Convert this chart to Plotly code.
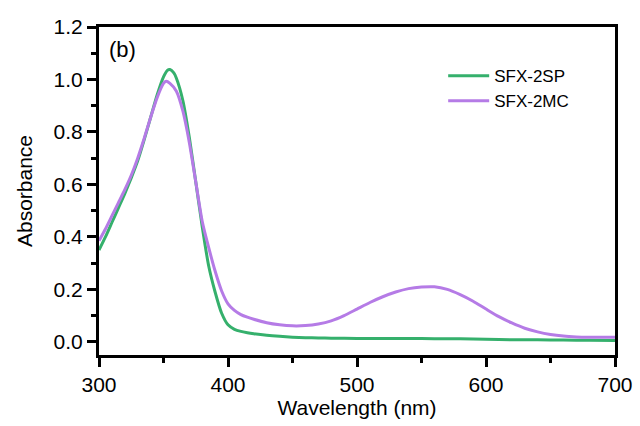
import plotly.graph_objects as go

# Wavelength grids (nm)
wl_sp = [300, 305, 310, 315, 320, 325, 330, 335, 340, 345, 350, 353, 355, 358, 360,
         365, 370, 375, 380, 385, 390, 395, 400, 405, 410, 415, 420, 430, 440, 450,
         460, 470, 480, 500, 520, 540, 560, 580, 600, 620, 640, 660, 680, 700]
abs_sp = [0.350, 0.400, 0.455, 0.510, 0.565, 0.625, 0.690, 0.770, 0.855, 0.940, 1.010, 1.035, 1.038, 1.025, 1.005,
          0.920, 0.780, 0.610, 0.440, 0.290, 0.190, 0.110, 0.065, 0.048, 0.040, 0.035, 0.031, 0.025, 0.021, 0.018,
          0.016, 0.015, 0.014, 0.013, 0.013, 0.013, 0.012, 0.012, 0.010, 0.008, 0.008, 0.007, 0.006, 0.005]

wl_mc = [300, 305, 310, 315, 320, 325, 330, 335, 340, 345, 350, 352, 355, 360, 365,
         370, 375, 380, 385, 390, 395, 400, 405, 410, 415, 420, 430, 440, 450, 460,
         470, 480, 490, 500, 510, 520, 530, 540, 550, 560, 570, 580, 590, 600, 610,
         620, 630, 640, 650, 660, 670, 680, 690, 700]
abs_mc = [0.385, 0.430, 0.480, 0.530, 0.580, 0.635, 0.700, 0.775, 0.855, 0.930, 0.985, 0.993, 0.985, 0.955, 0.880,
          0.760, 0.610, 0.460, 0.360, 0.270, 0.195, 0.145, 0.120, 0.104, 0.094, 0.086, 0.073, 0.065, 0.061, 0.062,
          0.068, 0.080, 0.100, 0.125, 0.150, 0.172, 0.190, 0.203, 0.209, 0.210, 0.200, 0.180, 0.155, 0.125, 0.096,
          0.072, 0.052, 0.038, 0.028, 0.022, 0.019, 0.018, 0.018, 0.018]

x_ticks = [300, 400, 500, 600, 700]
y_ticks = [0.0, 0.2, 0.4, 0.6, 0.8, 1.0, 1.2]
y_ticklabels = ["0.0", "0.2", "0.4", "0.6", "0.8", "1.0", "1.2"]

FONT = "Liberation Sans, Arial, sans-serif"

fig = go.Figure()
fig.add_trace(go.Scatter(x=wl_sp, y=abs_sp, mode="lines", name="SFX-2SP",
                         line=dict(color="#35b06c", width=3, shape="spline", smoothing=0.6)))
fig.add_trace(go.Scatter(x=wl_mc, y=abs_mc, mode="lines", name="SFX-2MC",
                         line=dict(color="#b57be6", width=3, shape="spline", smoothing=0.6)))

axis_common = dict(showgrid=False, zeroline=False, showline=True, linecolor="black",
                   linewidth=3, mirror=True, ticks="outside", ticklen=9, tickwidth=3,
                   tickcolor="black", automargin=False,
                   tickfont=dict(family=FONT, size=21, color="black"))

fig.update_xaxes(range=[300, 700], tickvals=x_ticks,
                 minor=dict(dtick=50, ticks="outside", ticklen=5, tickwidth=3, tickcolor="black"),
                 title=dict(text="Wavelength (nm)", font=dict(family=FONT, size=21, color="black"), standoff=0),
                 **axis_common)
fig.update_yaxes(range=[-0.05, 1.2], tickvals=y_ticks, ticktext=y_ticklabels,
                 minor=dict(dtick=0.1, ticks="outside", ticklen=5, tickwidth=3, tickcolor="black"),
                 title=dict(text="Absorbance", font=dict(family=FONT, size=21, color="black"), standoff=16),
                 **axis_common)

fig.add_annotation(text="(b)", xref="paper", yref="paper", x=0.015, y=0.975,
                   xanchor="left", yanchor="top", showarrow=False,
                   font=dict(family=FONT, size=22, color="black"))

fig.update_layout(width=640, height=426, margin=dict(l=99, r=25, t=27, b=71),
                  plot_bgcolor="white", paper_bgcolor="white",
                  legend=dict(x=0.667, y=0.905, xanchor="left", yanchor="top",
                              bgcolor="rgba(0,0,0,0)", tracegroupgap=0, itemwidth=41,
                              font=dict(family=FONT, size=17, color="black")),
                  showlegend=True)

fig.write_html("out.html")
